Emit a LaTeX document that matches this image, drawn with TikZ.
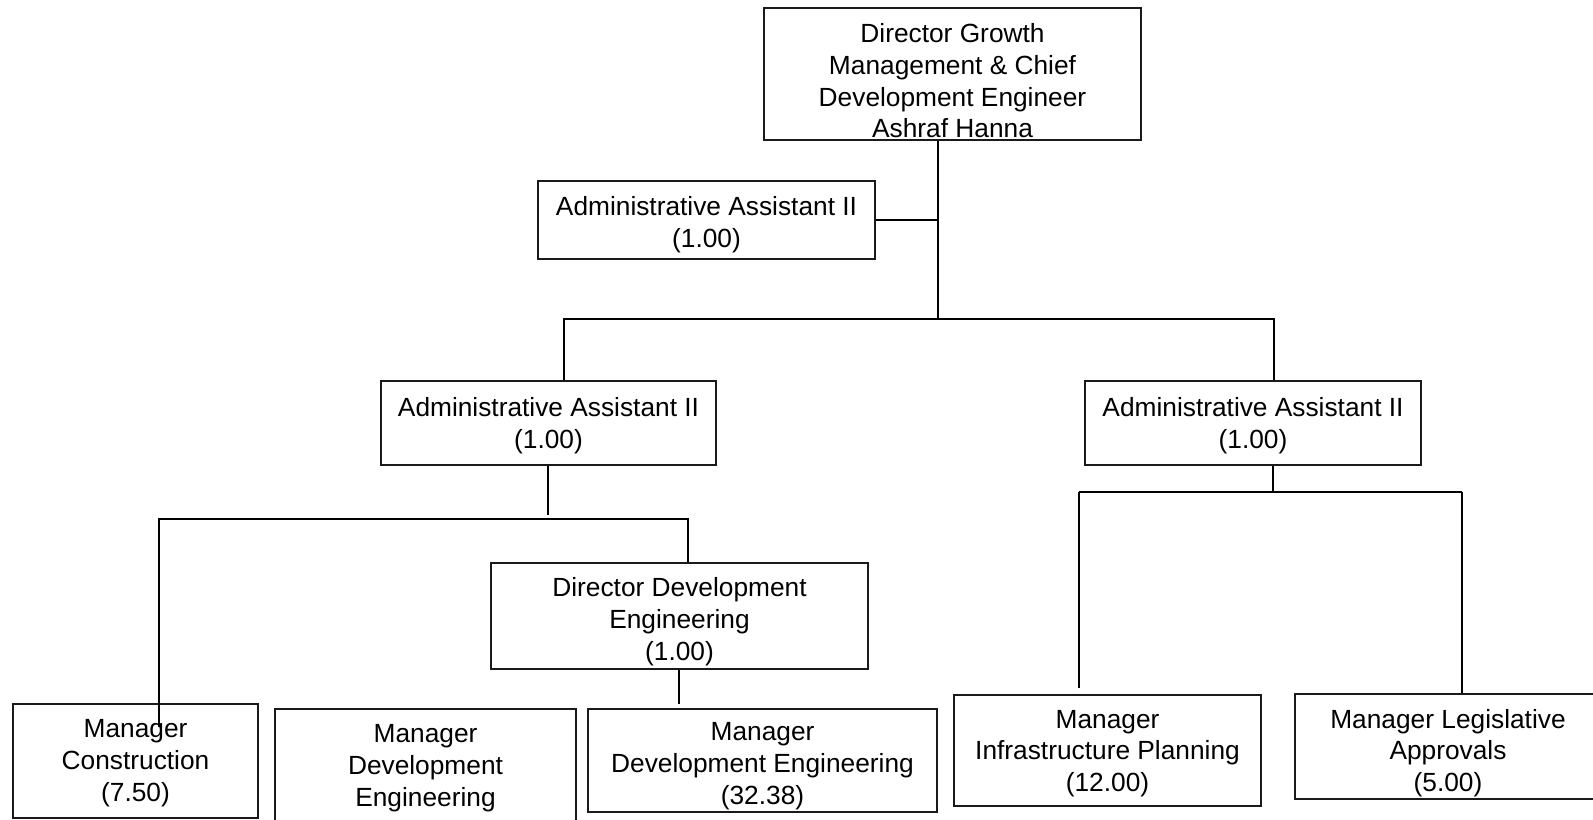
\documentclass[tikz,border=0pt]{standalone}
\usepackage{fontspec}
\setmainfont{Liberation Sans}
\usepackage{tikz}
\definecolor{frameline}{HTML}{1A1A1A}
\newcommand{\orgfont}{\fontsize{13.15}{15.85}\selectfont}
% name, centre x, centre y, width, height, text y, text
\newcommand{\orgbox}[7]{%
  \node[orgframe, minimum width=#4*0.5pt, minimum height=#5*0.5pt] (#1) at (#2,#3) {};
  \node[orgtext] (#1-label) at (#2,#6) {#7};
}
\tikzset{
  orgframe/.style={draw=frameline, line width=0.7pt, inner sep=0pt},
  orgtext/.style={align=center, inner sep=0pt, font=\orgfont},
  link/.style={draw=black, line width=1pt},
  thinlink/.style={draw=black, line width=0.7pt}
}

\begin{document}
\begin{tikzpicture}[x=0.5pt, y=-0.5pt]
  \path[use as bounding box, fill=white] (0,0) rectangle (1593,819);
  \clip (0,0) rectangle (1593,819);

  % boxes
  \orgbox{top}{952.5}{74}{377}{132}{81}{Director Growth\\Management \& Chief\\Development Engineer\\Ashraf Hanna}
  \orgbox{aa0}{706.5}{220}{337}{78}{224.5}{Administrative Assistant II\\(1.00)}
  \orgbox{aaL}{548.5}{423}{335}{84}{426}{Administrative Assistant II\\(1.00)}
  \orgbox{aaR}{1253}{423}{336}{84}{426}{Administrative Assistant II\\(1.00)}
  \orgbox{dde}{679.5}{616}{377}{106}{621.5}{Director Development\\Engineering\\(1.00)}
  \orgbox{mc}{135.5}{761}{245}{114}{763}{Manager\\Construction\\(7.50)}
  \orgbox{mde}{425.5}{768}{301}{118}{768}{Manager\\Development\\Engineering}
  \orgbox{mdeb}{762.5}{760.5}{349}{103}{766}{Manager\\Development Engineering\\(32.38)}
  \orgbox{mip}{1107.5}{750.5}{307}{111}{753.5}{Manager\\Infrastructure Planning\\(12.00)}
  \orgbox{mla}{1448}{746.5}{306}{105}{753}{Manager Legislative\\Approvals\\(5.00)}

  % top level
  \coordinate (bus-top) at (938,319);
  \coordinate (bus-top-l) at (564,319);
  \coordinate (bus-top-r) at (1274,319);
  \draw[link] (top.south -| bus-top) -- (bus-top);
  \draw[link] (aa0.east) -- (aa0.east -| bus-top);
  \draw[link] (aaL.north -| bus-top-l) -- (bus-top-l) -- (bus-top-r) -- (aaR.north -| bus-top-r);

  % left group
  \coordinate (aaL-stub) at (548,515);
  \coordinate (bus-l-w) at (159,519);
  \coordinate (bus-l-e) at (688,519);
  \coordinate (mc-tip) at (159,727);
  \coordinate (dde-stub) at (679,704);
  \draw[link] (aaL.south -| aaL-stub) -- (aaL-stub);
  \draw[link] (mc-tip) -- (bus-l-w) -- (bus-l-e) -- (dde.north -| bus-l-e);
  \draw[link] (dde.south -| dde-stub) -- (dde-stub);

  % right group
  \coordinate (bus-r-mid) at (1273,492);
  \coordinate (bus-r-w) at (1079,492);
  \coordinate (bus-r-e) at (1462,492);
  \coordinate (mip-tip) at (1079,688);
  \draw[link] (aaR.south -| bus-r-mid) -- (bus-r-mid);
  \draw[link] (bus-r-w) -- (bus-r-e);
  \draw[thinlink] (mip-tip) -- (bus-r-w);
  \draw[thinlink] (bus-r-e) -- (mla.north -| bus-r-e);
\end{tikzpicture}
\end{document}
